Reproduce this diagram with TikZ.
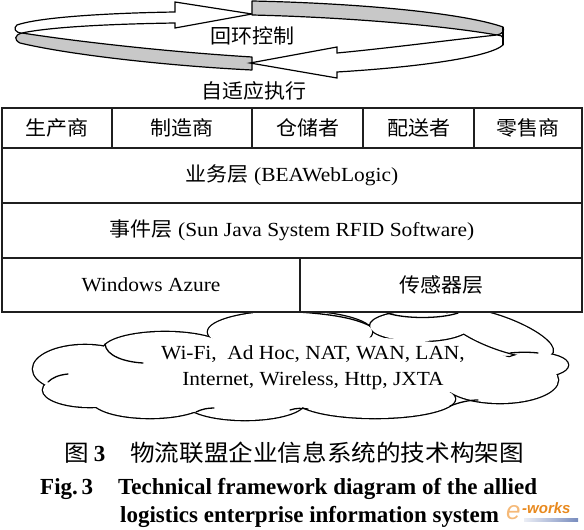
\documentclass[tikz,border=0pt]{standalone}
\usepackage{fontspec}
\setmainfont{Liberation Serif}[FakeStretch=1.07]
\newfontfamily\cjk{Noto Sans CJK SC}[FakeStretch=1.05]
\newfontfamily\capserif{Liberation Serif}
\newfontfamily\capcjk{Noto Sans CJK SC}[FakeStretch=1.07]
\newfontfamily\wmfont{Liberation Sans}
\definecolor{bandgray}{RGB}{200,200,200}
\definecolor{eworange}{RGB}{232,137,30}
\definecolor{ewlight}{RGB}{245,185,120}
\definecolor{ewblue}{RGB}{120,140,190}
\begin{document}
\begin{tikzpicture}[x=1pt,y=-1pt,
  cell/.style={draw=black!88, line width=1.6pt, fill=white, inner sep=0pt, font=\fontsize{20}{22}\selectfont},
  lbl/.style={inner sep=0pt, font=\fontsize{20}{22}\selectfont},
  band/.style={draw=black, line width=1.2pt, line join=round, fill=bandgray},
  arrowbody/.style={draw=black, line width=1.2pt, line join=miter, fill=white},
  cloudedge/.style={draw=black, line width=2.6pt},
  cloudfill/.style={fill=white},
  innerstroke/.style={draw=black, line width=1.3pt, line cap=round},
  capline/.style={inner sep=0pt},
  capen/.style={capline, anchor=base west, font=\capserif\bfseries\fontsize{23}{26}\selectfont}
]
\useasboundingbox (0,0) rectangle (584,530);

% ---- loop arrows (top) ----
% left part: grey band below, white arrow pointing right above
\path[band] (22,33) .. controls (80,42) and (170,52) .. (252,57) -- (252,70)
  .. controls (170,66) and (70,55) .. (20,43) .. controls (14,40) and (14,35) .. (22,33) -- cycle;
\path[arrowbody] (17,25) .. controls (40,17) and (110,13) .. (175,12) -- (175,2) -- (252,14)
  -- (175,28) -- (175,23) .. controls (110,24) and (50,27) .. (22,33)
  .. controls (15,33) and (13,28) .. (17,25) -- cycle;
% right part: grey band above, white arrow pointing left below
\path[band] (252,1) .. controls (350,3) and (460,12) .. (503,27)
  .. controls (505,31) and (502,34) .. (497,35) .. controls (440,25) and (340,17) .. (252,15) -- cycle;
\path[arrowbody] (497,35) .. controls (450,40) and (390,48) .. (337,53) -- (337,47) -- (250,63)
  -- (337,78) -- (337,72) .. controls (420,67) and (490,57) .. (503,45) -- (503,38)
  .. controls (503,36) and (500,35) .. (497,35) -- cycle;
\draw[line width=1.8pt] (503,27) -- (503,45);

\node[lbl, font=\cjk\fontsize{20}{22}\selectfont] (loopctl) at (252,36) {回环控制};
\node[lbl, font=\cjk\fontsize{20}{22}\selectfont] (adapt) at (254,91) {自适应执行};

% ---- cloud ----
\foreach \cx/\cy/\rx/\ry/\rt in {85/369/52/24/0, 165/350/62/18/0, 290/332/82/21/0, 420/326/50/15/0,
    500/333/56/16/-20, 535/365/33/12/0, 500/380/58/23/0, 375/399/80/19/0, 245/402/60/18/0,
    150/400/58/18/0, 90/390/47/17/0}
  \path[cloudedge, rotate around={\rt:(\cx,\cy)}] (\cx,\cy) ellipse [x radius=\rx, y radius=\ry];
\foreach \cx/\cy/\rx/\ry/\rt in {85/369/52/24/0, 165/350/62/18/0, 290/332/82/21/0, 420/326/50/15/0,
    500/333/56/16/-20, 535/365/33/12/0, 500/380/58/23/0, 375/399/80/19/0, 245/402/60/18/0,
    150/400/58/18/0, 90/390/47/17/0}
  \path[cloudfill, rotate around={\rt:(\cx,\cy)}] (\cx,\cy) ellipse [x radius=\rx, y radius=\ry];
\path[cloudfill] (310,368) ellipse [x radius=210, y radius=32];
% inner strokes of the cloud
\path[innerstroke] (105,344) .. controls (106,356) and (125,362) .. (143,363);
\path[innerstroke] (68,374) .. controls (58,375) and (52,378) .. (48,382);
\path[innerstroke] (298,312) .. controls (330,314) and (355,318) .. (370,326);
\path[innerstroke] (387,313) .. controls (405,319) and (440,319) .. (458,313);
\path[innerstroke] (510,353) .. controls (520,352) and (530,352) .. (538,353);
\path[innerstroke] (196,412) .. controls (202,409) and (208,408) .. (214,408);
\path[innerstroke] (290,410) .. controls (296,408) and (302,408) .. (308,409);
\path[innerstroke] (450,406) .. controls (460,402) and (470,400) .. (478,400);

\node[lbl, align=center, font=\fontsize{20}{26}\selectfont] (net) at (313,368)
  {Wi-Fi,\ \ Ad Hoc, NAT, WAN, LAN,\\Internet, Wireless, Http, JXTA};

% ---- layered table ----
\node[cell, minimum width=110pt, minimum height=40pt] (prod) at (57,128) {\cjk 生产商};
\node[cell, minimum width=140pt, minimum height=40pt] (manu) at (182,128) {\cjk 制造商};
\node[cell, minimum width=111pt, minimum height=40pt] (ware) at (307.5,128) {\cjk 仓储者};
\node[cell, minimum width=111pt, minimum height=40pt] (dist) at (418.5,128) {\cjk 配送者};
\node[cell, minimum width=108pt, minimum height=40pt] (retail) at (528,128) {\cjk 零售商};
\node[cell, minimum width=580pt, minimum height=55pt] (biz) at (292,175.5) {{\cjk 业务层} (BEAWebLogic)};
\node[cell, minimum width=580pt, minimum height=55pt] (event) at (292,230.5) {{\cjk 事件层} (Sun Java System RFID Software)};
\node[cell, minimum width=298pt, minimum height=54pt] (azure) at (151,285) {Windows Azure};
\node[cell, minimum width=282pt, minimum height=54pt] (sensor) at (441,285) {\cjk 传感器层};

% ---- caption ----
\node[capline, anchor=west, font=\fontsize{23}{26}\selectfont] (capa) at (64,453)
  {{\capcjk 图}\hspace{5pt}{\capserif\bfseries 3}};
\node[capline, anchor=west, font=\capcjk\fontsize{23}{26}\selectfont] (capb) at (130,453)
  {物流联盟企业信息系统的技术构架图};
\node[capen] (figa) at (40,494) {Fig.\,3};
\node[capen] (figb) at (118,494) {Technical framework diagram of the allied};
\node[capen] (figc) at (120,522) {logistics enterprise information system};

% ---- watermark ----
\shade[left color=ewblue!15, right color=ewblue] (524,518) rectangle (578,521);
\node[capline, anchor=base west, font=\wmfont\itshape\fontsize{26}{26}\selectfont, text=ewlight] (ewe) at (506,519) {e};
\node[capline, anchor=base west, font=\wmfont\bfseries\itshape\fontsize{15}{15}\selectfont, text=eworange] (eworks) at (522,513) {-works};
\end{tikzpicture}
\end{document}
